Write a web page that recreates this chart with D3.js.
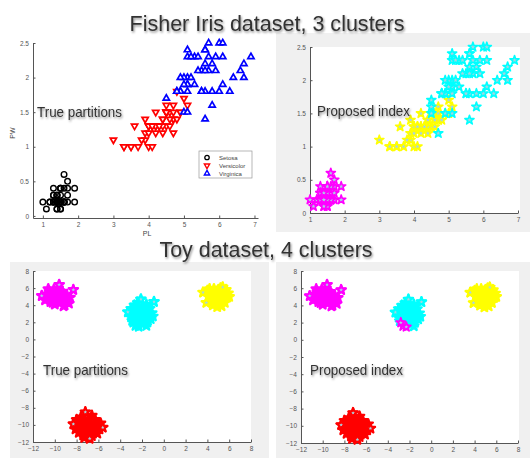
<!DOCTYPE html>
<html lang="en">
<head>
  <meta charset="UTF-8">
  <title>Fisher Iris / Toy dataset clusters</title>
  <script src="https://cdnjs.cloudflare.com/ajax/libs/d3/7.8.5/d3.min.js"></script>
  <style>
    body { margin: 0; background: #fff; font-family: "Liberation Sans", Arial, sans-serif; }
    svg { display: block; }
    .tick text { font-size: 6.5px; fill: #555; }
    .tick line, .domain { stroke: #555; }
  </style>
</head>
<body>
<svg id="chart" width="530" height="458"></svg>
<script>
// Fisher iris: [petal length, petal width]
const setosa = [[1.4,0.2],[1.4,0.2],[1.3,0.2],[1.5,0.2],[1.4,0.2],[1.7,0.4],[1.4,0.3],[1.5,0.2],[1.4,0.2],[1.5,0.1],
  [1.5,0.2],[1.6,0.2],[1.4,0.1],[1.1,0.1],[1.2,0.2],[1.5,0.4],[1.3,0.4],[1.4,0.3],[1.7,0.3],[1.5,0.3],
  [1.7,0.2],[1.5,0.4],[1.0,0.2],[1.7,0.5],[1.9,0.2],[1.6,0.2],[1.6,0.4],[1.5,0.2],[1.4,0.2],[1.6,0.2],
  [1.6,0.2],[1.5,0.4],[1.5,0.1],[1.4,0.2],[1.5,0.2],[1.2,0.2],[1.3,0.2],[1.4,0.1],[1.3,0.2],[1.5,0.2],
  [1.3,0.3],[1.3,0.3],[1.3,0.2],[1.6,0.6],[1.9,0.4],[1.4,0.3],[1.6,0.2],[1.4,0.2],[1.5,0.2],[1.4,0.2]];
const versicolor = [[4.7,1.4],[4.5,1.5],[4.9,1.5],[4.0,1.3],[4.6,1.5],[4.5,1.3],[4.7,1.6],[3.3,1.0],[4.6,1.3],[3.9,1.4],
  [3.5,1.0],[4.2,1.5],[4.0,1.0],[4.7,1.4],[3.6,1.3],[4.4,1.4],[4.5,1.5],[4.1,1.0],[4.5,1.5],[3.9,1.1],
  [4.8,1.8],[4.0,1.3],[4.9,1.5],[4.7,1.2],[4.3,1.3],[4.4,1.4],[4.8,1.4],[5.0,1.7],[4.5,1.5],[3.5,1.0],
  [3.8,1.1],[3.7,1.0],[3.9,1.2],[5.1,1.6],[4.5,1.5],[4.5,1.6],[4.7,1.5],[4.4,1.3],[4.1,1.3],[4.0,1.3],
  [4.4,1.2],[4.6,1.4],[4.0,1.2],[3.3,1.0],[4.2,1.3],[4.2,1.2],[4.2,1.3],[4.3,1.3],[3.0,1.1],[4.1,1.3]];
const virginica = [[6.0,2.5],[5.1,1.9],[5.9,2.1],[5.6,1.8],[5.8,2.2],[6.6,2.1],[4.5,1.7],[6.3,1.8],[5.8,1.8],[6.1,2.5],
  [5.1,2.0],[5.3,1.9],[5.5,2.1],[5.0,2.0],[5.1,2.4],[5.3,2.3],[5.5,1.8],[6.7,2.2],[6.9,2.3],[5.0,1.5],
  [5.7,2.3],[4.9,2.0],[6.7,2.0],[4.9,1.8],[5.7,2.1],[6.0,1.8],[4.8,1.8],[4.9,1.8],[5.6,2.1],[5.8,1.6],
  [6.1,1.9],[6.4,2.0],[5.6,2.2],[5.1,1.5],[5.6,1.4],[6.1,2.3],[5.6,2.4],[5.5,1.8],[4.8,1.8],[5.4,2.1],
  [5.6,2.4],[5.1,2.3],[5.1,1.9],[5.9,2.3],[5.7,2.5],[5.2,2.3],[5.0,1.9],[5.2,2.0],[5.4,2.3],[5.1,1.8]];
// proposed index labels for iris, one char per point (setosa, versicolor, virginica order)
const irisProposed =
  "00000000000000000000000000000000000000000000000000" +
  "11211111111111111111211211111111112211111111111111" +
  "22222222222222222221222222222222222222222222222222";
const irisColors = ["#ff00ff", "#ffff00", "#00ffff"];

// toy dataset: 4 clusters, [x, y]
const toyMagenta = [[-11.2,5.1],[-10.8,5.3],[-10.7,4.8],[-10.5,5.6],[-10.4,4.4],[-10.3,5.1],[-10.1,5.8],[-10.0,4.1],
  [-9.9,4.7],[-9.8,5.3],[-9.7,6.0],[-9.6,6.4],[-9.5,4.3],[-9.4,5.0],[-9.3,5.6],[-9.1,4.0],[-9.0,4.6],[-8.9,5.2],
  [-8.8,4.4],[-8.6,4.9],[-8.3,5.8],[-10.9,4.6],[-10.2,4.3],[-9.2,3.9],[-8.7,4.2],[-10.6,5.9],[-9.6,5.7],[-10.0,5.5],
  [-9.7,4.9],[-10.4,4.9]];
const toyCyan = [[-3.3,3.2],[-3.0,2.6],[-3.0,3.6],[-2.8,2.0],[-2.8,3.1],[-2.7,4.0],[-2.6,1.6],[-2.5,2.5],[-2.4,3.4],
  [-2.3,1.5],[-2.2,2.2],[-2.1,4.7],[-2.1,3.0],[-2.0,3.8],[-1.9,1.8],[-1.8,2.6],[-1.7,3.3],[-1.6,4.1],[-1.5,2.0],
  [-1.4,2.9],[-1.3,3.6],[-1.2,2.4],[-1.1,3.1],[-0.9,4.4],[-2.9,2.2],[-2.4,4.3],[-1.6,1.6],[-1.0,2.7],[-2.6,2.9],
  [-1.9,3.5]];
const toyYellow = [[3.6,5.5],[3.9,4.3],[4.0,5.7],[4.1,5.0],[4.3,4.5],[4.4,5.4],[4.5,4.0],[4.6,5.9],[4.7,4.8],[4.8,5.3],
  [4.9,3.8],[5.0,4.4],[5.0,5.8],[5.1,5.0],[5.2,4.1],[5.3,5.5],[5.4,6.1],[5.4,4.7],[5.5,5.2],[5.6,4.3],[5.7,5.8],
  [5.8,4.9],[5.9,5.4],[6.0,5.0],[4.5,5.0],[5.2,6.0],[4.2,5.9],[5.3,3.9],[4.8,4.3],[5.6,5.6]];
const toyRed = [[-8.3,-9.9],[-8.1,-10.5],[-8.0,-9.4],[-7.8,-10.9],[-7.7,-9.8],[-7.6,-9.1],[-7.5,-10.4],[-7.4,-11.2],
  [-7.2,-8.5],[-7.2,-9.7],[-7.1,-10.8],[-7.0,-10.1],[-6.9,-9.3],[-6.8,-11.6],[-6.8,-10.5],[-6.7,-9.8],[-6.5,-11.0],
  [-6.4,-10.2],[-6.3,-9.4],[-6.2,-10.7],[-6.0,-9.9],[-5.9,-10.5],[-5.8,-9.8],[-5.6,-10.3],[-7.9,-10.2],[-7.3,-11.5],
  [-6.6,-11.3],[-6.1,-11.0],[-7.4,-9.4],[-6.6,-8.9]];
// outlying toy points whose pale star centres stay visible
const toyOutliers = [[-9.6,6.4],[-8.3,5.8],[-11.2,5.1],[-2.1,4.7],[-0.9,4.4],[-3.3,3.2],[3.6,5.5],[3.9,4.3],[5.4,6.1],
  [-7.2,-8.5],[-6.8,-11.6],[-5.6,-10.3],[-8.3,-9.9]];
// cyan-cluster points the proposed index gives to magenta
const toyMoved = [[-2.6,1.6],[-2.3,1.5],[-2.8,2.0]];

const irisXTicks = [1, 2, 3, 4, 5, 6, 7];
const irisYTicks = [0, 0.5, 1, 1.5, 2, 2.5];
const toyXTicks = [-12, -10, -8, -6, -4, -2, 0, 2, 4, 6, 8];
const toyYTicks = [-12, -10, -8, -6, -4, -2, 0, 2, 4, 6, 8];
const legendNames = ["Setosa", "Versicolor", "Virginica"];

const svg = d3.select("#chart");
const defs = svg.append("defs");
defs.append("filter").attr("id", "sh").attr("x", "-10%").attr("y", "-30%").attr("width", "130%").attr("height", "180%")
  .append("feDropShadow").attr("dx", 1).attr("dy", 1.5).attr("stdDeviation", 1.2)
  .attr("flood-color", "#000").attr("flood-opacity", 0.45);

function bigText(x, y, str, size, len, anchor) {
  svg.append("text").attr("x", x).attr("y", y).attr("text-anchor", anchor || "start")
    .attr("font-size", size).attr("fill", "#333").attr("filter", "url(#sh)")
    .attr("textLength", len).attr("lengthAdjust", "spacingAndGlyphs").text(str);
}

// panel backgrounds
svg.append("rect").attr("x", 276).attr("y", 33).attr("width", 254).attr("height", 199).attr("fill", "#f0f0f0");
svg.append("rect").attr("x", 10).attr("y", 262).attr("width", 259).attr("height", 196).attr("fill", "#f0f0f0");
svg.append("rect").attr("x", 276).attr("y", 262).attr("width", 254).attr("height", 196).attr("fill", "#f0f0f0");
svg.append("rect").attr("x", 310).attr("y", 47).attr("width", 210).attr("height", 166).attr("fill", "#fff");
svg.append("rect").attr("x", 33).attr("y", 271).attr("width", 218).attr("height", 171).attr("fill", "#fff");
svg.append("rect").attr("x", 301).attr("y", 271).attr("width", 218).attr("height", 172).attr("fill", "#fff");

function axes(g, x, y, xt, yt, xFmt, yFmt) {
  g.append("g").attr("transform", `translate(0,${y.range()[0]})`)
    .call(d3.axisBottom(x).tickValues(xt).tickSize(-2.5).tickSizeOuter(0).tickPadding(4).tickFormat(xFmt || d3.format("d")));
  g.append("g").attr("transform", `translate(${x.range()[0]},0)`)
    .call(d3.axisLeft(y).tickValues(yt).tickSize(-2.5).tickSizeOuter(0).tickPadding(4).tickFormat(yFmt || d3.format("d")));
}
const yIrisFmt = d => d.toString();

const star = d3.symbol(d3.symbolStar, 26);
function stars(g, data, x, y, color, sw, fill) {
  g.append("g").selectAll("path").data(data).join("path")
    .attr("d", star)
    .attr("transform", d => `translate(${x(d[0])},${y(d[1])})`)
    .attr("fill", fill || "#a8d4e0").attr("stroke", color).attr("stroke-width", sw).attr("stroke-linejoin", "round");
}
const isIn = list => d => list.some(m => m[0] === d[0] && m[1] === d[1]);
function toyCluster(g, data, x, y, color) {
  stars(g, data, x, y, color, 2.4, color);
  stars(g, data.filter(isIn(toyOutliers)), x, y, color, 1.8);
}

// ---- top left: true partitions (iris)
const x1 = d3.scaleLinear().domain([0.72, 7.1]).range([33, 258]);
const y1 = d3.scaleLinear().domain([-0.03, 2.5]).range([218, 43]);
const g1 = svg.append("g");
axes(g1, x1, y1, irisXTicks, irisYTicks, null, yIrisFmt);
g1.append("text").attr("transform", "translate(15,133) rotate(-90)").attr("text-anchor", "middle")
  .attr("font-size", 7).attr("fill", "#444").text("PW");
g1.append("text").attr("x", 147).attr("y", 236).attr("text-anchor", "middle")
  .attr("font-size", 7).attr("fill", "#444").text("PL");

g1.append("g").selectAll("circle").data(setosa).join("circle")
  .attr("cx", d => x1(d[0])).attr("cy", d => y1(d[1])).attr("r", 2.8)
  .attr("fill", "none").attr("stroke", "#000").attr("stroke-width", 1.4);
const tri = d3.symbol(d3.symbolTriangle, 17);
g1.append("g").selectAll("path").data(versicolor).join("path")
  .attr("d", tri).attr("transform", d => `translate(${x1(d[0])},${y1(d[1])}) rotate(180)`)
  .attr("fill", "#fff").attr("stroke", "#ff0000").attr("stroke-width", 1.7);
g1.append("g").selectAll("path").data(virginica).join("path")
  .attr("d", tri).attr("transform", d => `translate(${x1(d[0])},${y1(d[1])})`)
  .attr("fill", "#fff").attr("stroke", "#0000ff").attr("stroke-width", 1.7);

// legend
const lg = g1.append("g").attr("transform", "translate(199,151)");
lg.append("rect").attr("width", 53).attr("height", 27).attr("fill", "#fff").attr("stroke", "#999").attr("stroke-width", 0.7);
legendNames.forEach((n, i) => {
  const yy = 6.5 + i * 8;
  if (i === 0) lg.append("circle").attr("cx", 8).attr("cy", yy).attr("r", 2.2).attr("fill", "none").attr("stroke", "#000").attr("stroke-width", 1.3);
  else lg.append("path").attr("d", d3.symbol(d3.symbolTriangle, 12))
    .attr("transform", `translate(8,${yy})` + (i === 1 ? " rotate(180)" : ""))
    .attr("fill", "#fff").attr("stroke", i === 1 ? "#ff0000" : "#0000ff").attr("stroke-width", 1.4);
  lg.append("text").attr("x", 20).attr("y", yy + 2).attr("font-size", 6).attr("fill", "#444").text(n);
});

// ---- top right: proposed index (iris)
const x2 = d3.scaleLinear().domain([1, 7]).range([310, 518]);
const y2 = d3.scaleLinear().domain([0, 2.5]).range([213, 47]);
const g2 = svg.append("g");
axes(g2, x2, y2, irisXTicks, irisYTicks, null, yIrisFmt);
const irisAll = setosa.concat(versicolor, virginica);
[0, 1, 2].forEach(k => {
  stars(g2, irisAll.filter((d, i) => +irisProposed[i] === k), x2, y2, irisColors[k], 1.6);
});

// ---- bottom left: true partitions (toy)
const x3 = d3.scaleLinear().domain([-12, 8]).range([33, 251]);
const y3 = d3.scaleLinear().domain([-12, 8]).range([442, 271]);
const g3 = svg.append("g");
axes(g3, x3, y3, toyXTicks, toyYTicks);
toyCluster(g3, toyMagenta, x3, y3, "#ff00ff");
toyCluster(g3, toyCyan, x3, y3, "#00ffff");
toyCluster(g3, toyYellow, x3, y3, "#ffff00");
toyCluster(g3, toyRed, x3, y3, "#ff0000");

// ---- bottom right: proposed index (toy)
const x4 = d3.scaleLinear().domain([-12, 8]).range([301, 518]);
const y4 = d3.scaleLinear().domain([-12, 8]).range([443, 271]);
const g4 = svg.append("g");
axes(g4, x4, y4, toyXTicks, toyYTicks);
toyCluster(g4, toyMagenta, x4, y4, "#ff00ff");
toyCluster(g4, toyCyan.filter(d => !isIn(toyMoved)(d)), x4, y4, "#00ffff");
stars(g4, toyMoved, x4, y4, "#ff00ff", 1.8);
toyCluster(g4, toyYellow, x4, y4, "#ffff00");
toyCluster(g4, toyRed, x4, y4, "#ff0000");

// titles and panel captions
bigText(267, 31, "Fisher Iris dataset, 3 clusters", 22, 275, "middle");
bigText(266, 257, "Toy dataset, 4 clusters", 22, 213, "middle");
bigText(37, 117, "True partitions", 15, 85);
bigText(317, 116, "Proposed index", 15, 93);
bigText(43, 375, "True partitions", 15, 85);
bigText(310, 375, "Proposed index", 15, 93);
</script>
</body>
</html>
